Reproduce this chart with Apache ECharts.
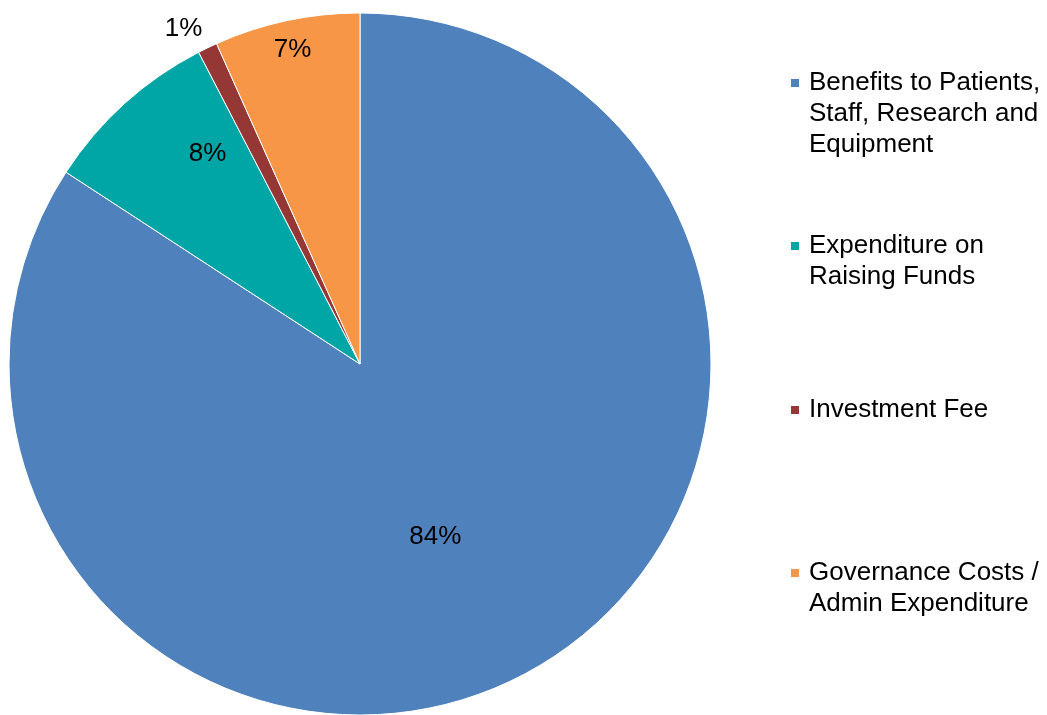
<!DOCTYPE html>
<html><head><meta charset="utf-8">
<script src="https://cdn.jsdelivr.net/npm/echarts@6/dist/echarts.min.js"></script>
<style>html,body{margin:0;padding:0;background:#fff}#c{width:1047px;height:715px}</style>
</head><body><div id="c"></div>
<script>
const categories = ['Benefits to Patients,\nStaff, Research and\nEquipment', 'Expenditure on\nRaising Funds', 'Investment Fee', 'Governance Costs /\nAdmin Expenditure'];
const values = [84.2, 8.2, 0.9, 6.7];
const colors = ['#4F81BD', '#00A6A6', '#953735', '#F79646'];

// label placement style: radial fraction of radius and angular nudge (deg)
const labelFrac = [0.533, 0.744, 1.083, 0.92];
const labelShift = [4.7, 6.4, -1.9, 0];
const legendIconY = [83, 246, 410, 573];

const CX = 360, CY = 364, R = 351, FS = 26, LH = 31, TEXT_DY = 2;
const total = values.reduce((a, b) => a + b, 0);

const chart = echarts.init(document.getElementById('c'));
const legends = categories.map((name, i) => {
  const lines = name.split('\n').length;
  const blockH = (2 * lines - 1) * LH;
  return {
    data: [name], orient: 'vertical', left: 789, top: legendIconY[i] - blockH / 2,
    padding: 0, itemWidth: 10, itemHeight: 10, icon: 'rect', selectedMode: false,
    formatter: n => '\n'.repeat(lines - 1) + n,
    textStyle: { fontFamily: 'Liberation Sans, Arial, sans-serif', fontSize: FS, lineHeight: LH, color: '#000', padding: [0, 0, 0, 4] }
  };
});

chart.setOption({
  animation: false,
  color: colors,
  legend: legends,
  series: [{
    type: 'pie', center: [CX, CY], radius: R, startAngle: 90, clockwise: true,
    avoidLabelOverlap: false,
    itemStyle: { borderColor: '#fff', borderWidth: 1 },
    label: {
      position: 'inside', color: '#000', fontSize: FS, fontFamily: 'Liberation Sans, Arial, sans-serif',
      formatter: p => Math.round(p.percent) + '%'
    },
    labelLine: { show: false },
    labelLayout: p => {
      const i = p.dataIndex;
      let cum = 0; for (let k = 0; k < i; k++) cum += values[k];
      const mid = (cum + values[i] / 2) / total * 360 + labelShift[i];
      const a = mid * Math.PI / 180;
      return { x: CX + Math.sin(a) * R * labelFrac[i], y: CY - Math.cos(a) * R * labelFrac[i] + TEXT_DY, align: 'center', verticalAlign: 'middle' };
    },
    data: categories.map((n, i) => ({ name: n, value: values[i] }))
  }]
});
</script></body></html>
